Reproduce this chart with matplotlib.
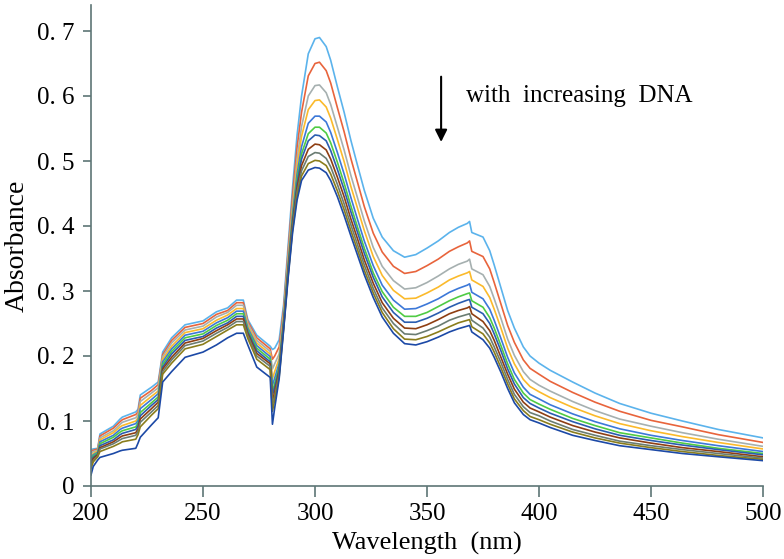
import matplotlib
matplotlib.use("Agg")
import matplotlib.pyplot as plt

# wavelength grid (nm)
wl = [200, 201, 203, 204, 210, 213, 214, 220, 221, 222, 227, 230, 232, 236, 242, 250, 256, 261, 265, 268,
      270, 274, 280, 281, 282, 284, 286, 288, 290, 292, 294, 297, 300, 302, 305,
      307, 310, 313, 316, 319, 322, 326, 330, 335, 340, 345, 350, 355, 360, 364, 368, 369, 370, 375, 378,
      380, 383, 386, 389, 393, 396, 400, 405, 415, 425, 436, 450, 464, 480, 500]

# absorbance, top curve (no DNA) to bottom curve (most DNA)
abs_0 = [.056, .057, .058, .080, .092, .103, .106, .114, .118, .140, .152, .160, .206, .228, .248, .254, .268, .274, .286, .286,
         .256, .232, .215, .210, .212, .225, .280, .370, .460, .540, .600, .665, .688, .690, .676,
         .655, .614, .575, .532, .493, .455, .412, .383, .362, .352, .356, .366, .377, .390, .398, .404, .407, .390, .383, .362,
         .340, .305, .270, .243, .214, .200, .189, .178, .160, .143, .127, .112, .100, .087, .074]
abs_1 = [.053, .055, .057, .077, .089, .099, .102, .110, .114, .135, .147, .156, .202, .224, .244, .250, .264, .270, .282, .282,
         .253, .228, .211, .195, .200, .214, .272, .361, .447, .521, .575, .631, .650, .652, .639,
         .620, .582, .545, .504, .467, .430, .389, .360, .338, .327, .330, .339, .349, .361, .368, .374, .377, .361, .353, .334,
         .313, .280, .247, .221, .194, .181, .172, .161, .144, .129, .115, .101, .091, .079, .067]
abs_2 = [.050, .053, .055, .074, .085, .095, .098, .105, .110, .130, .143, .151, .199, .220, .240, .246, .260, .267, .278, .278,
         .250, .224, .207, .180, .188, .203, .265, .352, .434, .504, .553, .600, .616, .617, .605,
         .587, .552, .517, .478, .443, .408, .367, .338, .316, .303, .305, .313, .323, .334, .341, .346, .349, .334, .325, .307,
         .288, .258, .226, .201, .176, .164, .155, .146, .130, .116, .103, .092, .082, .072, .061]
abs_3 = [.046, .050, .054, .071, .082, .091, .093, .100, .105, .124, .138, .146, .195, .215, .236, .242, .255, .263, .273, .273,
         .246, .220, .203, .165, .176, .196, .261, .346, .426, .492, .538, .579, .593, .594, .583,
         .566, .533, .499, .461, .427, .393, .353, .324, .301, .288, .289, .297, .306, .317, .323, .328, .330, .317, .307, .290,
         .272, .243, .212, .188, .164, .153, .145, .136, .121, .108, .096, .085, .076, .067, .057]
abs_4 = [.043, .048, .052, .068, .078, .087, .089, .096, .101, .119, .133, .142, .191, .211, .232, .238, .251, .259, .269, .269,
         .243, .216, .199, .155, .166, .189, .256, .340, .418, .480, .522, .558, .569, .569, .560,
         .544, .513, .480, .444, .410, .377, .339, .309, .286, .272, .273, .280, .288, .298, .304, .309, .311, .298, .288, .272,
         .255, .227, .198, .174, .152, .141, .134, .125, .111, .099, .088, .078, .070, .062, .053]
abs_5 = [.040, .046, .051, .065, .075, .083, .085, .091, .097, .113, .128, .137, .187, .207, .228, .234, .247, .255, .265, .265,
         .240, .212, .195, .145, .158, .184, .253, .336, .412, .472, .511, .542, .552, .552, .543,
         .528, .498, .466, .431, .398, .366, .328, .299, .275, .261, .261, .267, .276, .285, .291, .296, .297, .285, .275, .259,
         .243, .216, .188, .164, .143, .133, .126, .118, .104, .093, .082, .074, .066, .058, .050]
abs_6 = [.037, .044, .049, .062, .071, .079, .081, .087, .093, .108, .124, .133, .183, .203, .224, .230, .243, .251, .261, .261,
         .237, .208, .191, .140, .152, .180, .250, .333, .408, .465, .503, .531, .540, .539, .531,
         .516, .487, .456, .422, .390, .358, .321, .291, .267, .252, .252, .258, .266, .275, .281, .286, .287, .275, .265, .250,
         .234, .208, .180, .157, .136, .127, .120, .112, .099, .088, .078, .070, .063, .056, .048]
abs_7 = [.034, .042, .048, .059, .068, .075, .077, .082, .088, .103, .119, .129, .180, .198, .220, .227, .239, .248, .257, .257,
         .234, .204, .188, .130, .145, .176, .247, .329, .403, .458, .493, .518, .526, .525, .517,
         .503, .475, .445, .411, .380, .348, .312, .282, .258, .243, .242, .248, .256, .265, .270, .274, .276, .265, .253, .239,
         .224, .198, .172, .149, .129, .120, .114, .106, .093, .083, .074, .066, .059, .053, .045]
abs_8 = [.031, .039, .046, .057, .065, .071, .073, .078, .084, .098, .114, .124, .176, .194, .216, .223, .235, .244, .253, .253,
         .231, .200, .184, .125, .138, .172, .245, .326, .398, .452, .485, .507, .513, .512, .504,
         .491, .464, .434, .402, .371, .340, .304, .274, .250, .234, .233, .239, .246, .255, .260, .264, .265, .255, .243, .229,
         .214, .190, .164, .141, .122, .113, .108, .100, .087, .078, .069, .062, .056, .050, .043]
abs_9 = [.027, .037, .045, .053, .061, .066, .068, .072, .079, .091, .109, .119, .172, .189, .211, .218, .230, .240, .248, .248,
         .227, .195, .179, .115, .132, .168, .242, .323, .394, .446, .477, .496, .501, .500, .493,
         .480, .454, .425, .393, .363, .332, .297, .267, .242, .226, .225, .230, .237, .245, .251, .255, .256, .245, .234, .220,
         .206, .182, .157, .134, .116, .107, .102, .095, .083, .074, .066, .059, .053, .047, .041]
abs_10 = [.017, .030, .040, .044, .050, .054, .055, .058, .066, .075, .094, .105, .160, .176, .198, .206, .217, .228, .235, .235,
          .217, .183, .167, .095, .120, .165, .240, .320, .390, .440, .470, .486, .490, .489, .482,
          .470, .445, .416, .385, .355, .325, .290, .260, .235, .219, .217, .222, .229, .237, .242, .246, .247, .237, .225, .212,
          .198, .175, .150, .128, .110, .102, .097, .090, .078, .070, .062, .056, .050, .045, .039]

spectra = [abs_0, abs_1, abs_2, abs_3, abs_4, abs_5, abs_6, abs_7, abs_8, abs_9, abs_10]
colors = ['#5BB3EC', '#E8643C', '#A6B0B0', '#FBBA2B', '#3C78D8', '#4FCB44',
          '#2A5DB0', '#8E3E12', '#6A7C72', '#8A7D1C', '#1C49A6']

x_ticks = [200, 250, 300, 350, 400, 450, 500]
y_ticks = [0, 0.1, 0.2, 0.3, 0.4, 0.5, 0.6, 0.7]
y_tick_labels = ['0', '0. 1', '0. 2', '0. 3', '0. 4', '0. 5', '0. 6', '0. 7']

plt.rcParams['font.family'] = ['Liberation Serif', 'DejaVu Serif']

fig = plt.figure(figsize=(7.84, 5.59), dpi=100)
ax = fig.add_axes([91 / 784, 1 - 486 / 559, 672 / 784, 481 / 559])

for s, c in zip(spectra, colors):
    ax.plot(wl, s, color=c, lw=1.2)

ax.set_xlim(200, 500)
ax.set_ylim(0, 0.74)
ax.set_xticks(x_ticks)
ax.set_yticks(y_ticks)
ax.set_yticklabels(y_tick_labels)

axis_col = '#5E7676'
for side in ['top', 'right']:
    ax.spines[side].set_visible(False)
for side in ['left', 'bottom']:
    ax.spines[side].set_color(axis_col)
    ax.spines[side].set_linewidth(1.2)
ax.tick_params(axis='both', direction='out', color=axis_col, width=1.2, labelsize=18)
ax.tick_params(axis='x', length=8, pad=4)
ax.tick_params(axis='y', length=6, pad=6)

ax.set_xlabel('Wavelength  (nm)', fontsize=19, labelpad=5)
ax.set_ylabel('Absorbance', fontsize=20, labelpad=5)

ax.annotate('', xy=(356.3, 0.525), xytext=(356.3, 0.634),
            arrowprops=dict(arrowstyle='-|>', color='black', lw=1.5, mutation_scale=18))
ax.text(367.5, 0.600, 'with  increasing  DNA', fontsize=18, va='center', ha='left')

fig.savefig('out.png', dpi=100)
